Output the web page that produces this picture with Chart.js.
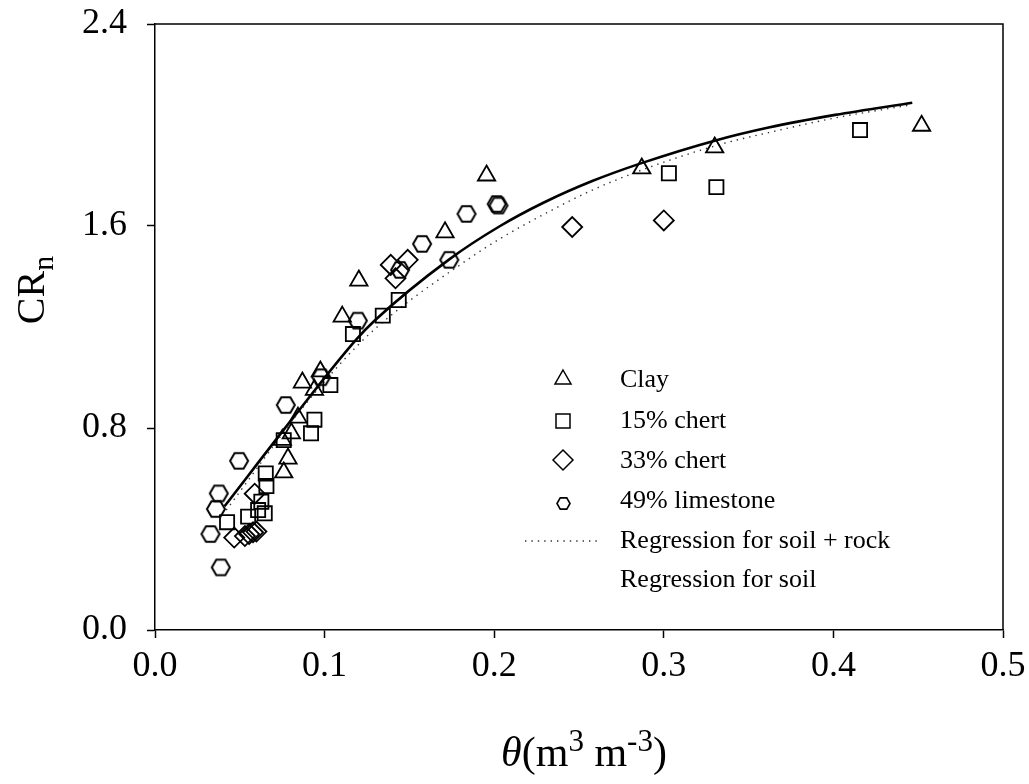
<!DOCTYPE html>
<html><head><meta charset="utf-8">
<script src="https://cdn.jsdelivr.net/npm/chart.js@4.4.1/dist/chart.umd.min.js"></script>
<style>html,body{margin:0;padding:0;background:#fff;}</style>
</head><body>
<canvas id="c" width="1029" height="784"></canvas>
<script>
// ---- data ----
const xTicks = [0.0, 0.1, 0.2, 0.3, 0.4, 0.5];
const yTicks = [0.0, 0.8, 1.6, 2.4];

const clayX = [0.0759, 0.0784, 0.0751, 0.0804, 0.0843, 0.0869, 0.094, 0.0975, 0.1104, 0.1202, 0.171, 0.1955, 0.287, 0.330, 0.452];
const clayY = [0.624, 0.679, 0.753, 0.779, 0.841, 0.980, 0.951, 1.024, 1.241, 1.384, 1.575, 1.800, 1.828, 1.911, 1.997];

const chert15X = [0.0425, 0.0549, 0.0608, 0.0647, 0.0627, 0.0657, 0.0653, 0.0759, 0.092, 0.094, 0.1034, 0.1167, 0.1343, 0.1437, 0.303, 0.331, 0.4157];
const chert15Y = [0.427, 0.449, 0.475, 0.462, 0.508, 0.570, 0.620, 0.752, 0.779, 0.833, 0.970, 1.172, 1.245, 1.307, 1.809, 1.754, 1.980];

const chert33X = [0.0467, 0.053, 0.0555, 0.0578, 0.0598, 0.0588, 0.139, 0.1418, 0.149, 0.246, 0.300];
const chert33Y = [0.366, 0.372, 0.380, 0.387, 0.390, 0.540, 1.446, 1.393, 1.466, 1.596, 1.622];

const lime49X = [0.0388, 0.0327, 0.0359, 0.0376, 0.0496, 0.0771, 0.098, 0.1196, 0.1445, 0.1575, 0.1735, 0.1837, 0.2015, 0.2025];
const lime49Y = [0.248, 0.380, 0.479, 0.541, 0.670, 0.891, 1.001, 1.225, 1.426, 1.529, 1.466, 1.648, 1.687, 1.681];

const regSoilX = [0.041, 0.0814, 0.1186, 0.1294, 0.1735, 0.203, 0.229, 0.2578, 0.2873, 0.330, 0.3618, 0.401, 0.4465];
const regSoilY = [0.49, 0.84, 1.15, 1.225, 1.468, 1.598, 1.692, 1.778, 1.850, 1.938, 1.990, 2.040, 2.088];

const regRockX = [0.042, 0.0892, 0.1196, 0.1402, 0.1833, 0.203, 0.2343, 0.2578, 0.2912, 0.3343, 0.3618, 0.401, 0.445];
const regRockY = [0.475, 0.898, 1.128, 1.252, 1.462, 1.548, 1.664, 1.742, 1.832, 1.925, 1.970, 2.028, 2.079];

const seriesNames = ['Clay', '15% chert', '33% chert', '49% limestone', 'Regression for soil + rock', 'Regression for soil'];

// ---- helpers ----
const pts = (xs, ys) => xs.map((x, i) => ({x: x, y: ys[i]}));
const FONT = "'Liberation Serif', 'Times New Roman', serif";

function hexCanvas(r, lw) {
  const s = Math.ceil(2 * r + 2 * lw + 2);
  const c = document.createElement('canvas');
  c.width = s; c.height = s;
  const g = c.getContext('2d');
  g.strokeStyle = '#000'; g.lineWidth = lw;
  g.beginPath();
  for (let k = 0; k < 6; k++) {
    const a = k * Math.PI / 3;
    const px = s / 2 + r * Math.cos(a), py = s / 2 + r * Math.sin(a);
    if (k === 0) g.moveTo(px, py); else g.lineTo(px, py);
  }
  g.closePath(); g.stroke();
  return c;
}
const hexBig = hexCanvas(9, 2);
const hexSmall = hexCanvas(6.5, 1.6);

const markerBase = {showLine: false, borderColor: '#000', backgroundColor: 'rgba(0,0,0,0)', pointBorderWidth: 1.8, pointRadius: 10, pointHoverRadius: 10};

const decor = {
  id: 'decor',
  afterDraw(chart) {
    const ctx = chart.ctx, a = chart.chartArea;
    ctx.save();
    // frame top/right
    ctx.strokeStyle = '#000'; ctx.lineWidth = 1.5;
    ctx.beginPath();
    ctx.moveTo(a.left, a.top); ctx.lineTo(a.right, a.top); ctx.lineTo(a.right, a.bottom);
    ctx.stroke();

    // legend
    const mx = 563, tx = 620;
    const rows = [380, 421, 461, 501, 541, 580];
    ctx.fillStyle = '#000';
    ctx.font = '26px ' + FONT;
    ctx.textBaseline = 'middle'; ctx.textAlign = 'left';
    seriesNames.forEach((n, i) => ctx.fillText(n, tx, rows[i]));
    ctx.lineWidth = 1.5; ctx.strokeStyle = '#000';
    // triangle
    let y = rows[0] - 2;
    ctx.beginPath();
    ctx.moveTo(mx, y - 8); ctx.lineTo(mx + 8, y + 6); ctx.lineTo(mx - 8, y + 6); ctx.closePath(); ctx.stroke();
    // square
    y = rows[1];
    ctx.strokeRect(mx - 7, y - 7, 14, 14);
    // diamond
    y = rows[2] - 1;
    ctx.beginPath();
    ctx.moveTo(mx, y - 10); ctx.lineTo(mx + 10, y); ctx.lineTo(mx, y + 10); ctx.lineTo(mx - 10, y); ctx.closePath(); ctx.stroke();
    // hexagon
    y = rows[3] + 2;
    ctx.drawImage(hexSmall, Math.round(mx - hexSmall.width / 2), Math.round(y - hexSmall.height / 2));
    // dotted sample
    y = rows[4];
    ctx.strokeStyle = '#333'; ctx.lineWidth = 1.4; ctx.setLineDash([1.4, 5]);
    ctx.beginPath(); ctx.moveTo(525, y); ctx.lineTo(598, y); ctx.stroke();
    ctx.setLineDash([]);

    // y axis title CRn
    ctx.fillStyle = '#000';
    ctx.save();
    ctx.translate(32, 290);
    ctx.rotate(-Math.PI / 2);
    ctx.textBaseline = 'alphabetic';
    ctx.font = '40px ' + FONT;
    const w1 = ctx.measureText('CR').width;
    ctx.font = '30px ' + FONT;
    const w2 = ctx.measureText('n').width;
    const st = -(w1 + w2) / 2;
    ctx.font = '40px ' + FONT;
    ctx.fillText('CR', st, 12);
    ctx.font = '30px ' + FONT;
    ctx.fillText('n', st + w1, 21);
    ctx.restore();

    // x axis title θ(m3 m-3)
    const parts = [
      {t: 'θ', f: 'italic 42px ' + FONT, dy: 0},
      {t: '(m', f: '42px ' + FONT, dy: 0},
      {t: '3', f: '31px ' + FONT, dy: -15},
      {t: ' m', f: '42px ' + FONT, dy: 0},
      {t: '-3', f: '31px ' + FONT, dy: -15},
      {t: ')', f: '42px ' + FONT, dy: 0}
    ];
    let tot = 0;
    parts.forEach(p => { ctx.font = p.f; p.w = ctx.measureText(p.t).width; tot += p.w; });
    let cx = 584 - tot / 2;
    ctx.textBaseline = 'alphabetic'; ctx.textAlign = 'left';
    parts.forEach(p => { ctx.font = p.f; ctx.fillText(p.t, cx, 766 + p.dy); cx += p.w; });
    ctx.restore();
  }
};

new Chart(document.getElementById('c'), {
  type: 'scatter',
  data: {
    datasets: [
      Object.assign({label: seriesNames[0], data: pts(clayX, clayY), pointStyle: 'triangle'}, markerBase),
      Object.assign({label: seriesNames[1], data: pts(chert15X, chert15Y), pointStyle: 'rect'}, markerBase),
      Object.assign({label: seriesNames[2], data: pts(chert33X, chert33Y), pointStyle: 'rectRot'}, markerBase),
      Object.assign({label: seriesNames[3], data: pts(lime49X, lime49Y), pointStyle: hexBig}, markerBase),
      {label: seriesNames[4], data: pts(regRockX, regRockY), showLine: true, borderColor: '#333', borderWidth: 1.4,
       borderDash: [1.4, 5], pointRadius: 0, cubicInterpolationMode: 'monotone', fill: false},
      {label: seriesNames[5], data: pts(regSoilX, regSoilY), showLine: true, borderColor: '#000', borderWidth: 2.6,
       pointRadius: 0, cubicInterpolationMode: 'monotone', fill: false}
    ]
  },
  options: {
    responsive: false,
    animation: false,
    devicePixelRatio: 1,
    layout: {padding: {top: 24, right: 26, left: 0, bottom: 0}},
    plugins: {legend: {display: false}, tooltip: {enabled: false}},
    scales: {
      x: {
        type: 'linear', min: 0, max: 0.5,
        afterBuildTicks: s => { s.ticks = xTicks.map(v => ({value: v})); },
        afterFit: s => { s.height = 154; s.paddingLeft = 0; s.paddingRight = 0; },
        ticks: {callback: v => Number(v).toFixed(1), color: '#000', font: {family: FONT, size: 36}, padding: 7, maxRotation: 0, autoSkip: false},
        grid: {drawOnChartArea: false, drawTicks: true, tickLength: 8, tickColor: '#000', tickWidth: 1.5},
        border: {color: '#000', width: 1.5}
      },
      y: {
        type: 'linear', min: 0, max: 2.4,
        afterBuildTicks: s => { s.ticks = yTicks.map(v => ({value: v})); },
        afterFit: s => { s.width = 155; s.paddingTop = 0; s.paddingBottom = 0; },
        ticks: {callback: v => Number(v).toFixed(1), color: '#000', font: {family: FONT, size: 36}, padding: 20, autoSkip: false},
        grid: {drawOnChartArea: false, drawTicks: true, tickLength: 8, tickColor: '#000', tickWidth: 1.5},
        border: {color: '#000', width: 1.5}
      }
    }
  },
  plugins: [decor]
});
</script>
</body></html>
